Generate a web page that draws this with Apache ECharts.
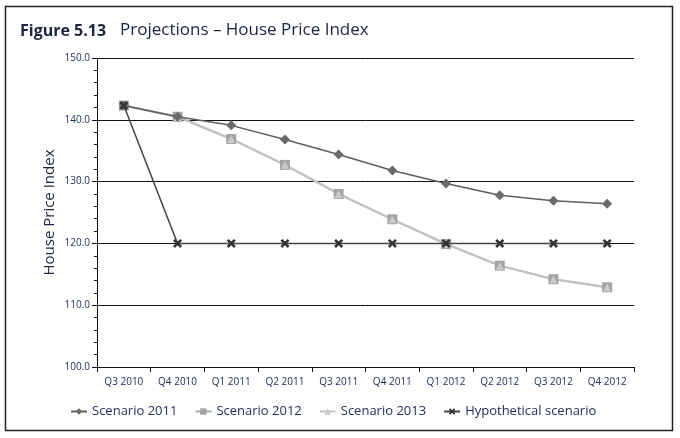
<!DOCTYPE html>
<html>
<head>
<meta charset="utf-8">
<script src="https://cdn.jsdelivr.net/npm/echarts@6/dist/echarts.min.js"></script>
<style>
html,body{margin:0;padding:0;background:#fff;}
#c{width:680px;height:438px;}
</style>
</head>
<body>
<div id="c"></div>
<script>
var categories = ['Q3 2010','Q4 2010','Q1 2011','Q2 2011','Q3 2011','Q4 2011','Q1 2012','Q2 2012','Q3 2012','Q4 2012'];
var scenario2011 = [142.3, 140.5, 139.1, 136.8, 134.4, 131.8, 129.7, 127.8, 126.9, 126.4];
var scenario2012 = [142.3, 140.5, 136.9, 132.7, 128.0, 123.9, 119.9, 116.4, 114.2, 112.9];
var scenario2013 = [142.3, 140.5, 136.9, 132.7, 128.0, 123.9, 119.9, 116.4, 114.2, 112.9];
var hypothetical = [142.3, 120.0, 120.0, 120.0, 120.0, 120.0, 120.0, 120.0, 120.0, 120.0];
var seriesNames = ['Scenario 2011','Scenario 2012','Scenario 2013','Hypothetical scenario'];

var txt = '#22305a';
var font = '"Open Sans", "Noto Sans", sans-serif';
var xSym = 'path://M2,0 L5,3 L8,0 L10,2 L7,5 L10,8 L8,10 L5,7 L2,10 L0,8 L3,5 L0,2 Z';

var chart = echarts.init(document.getElementById('c'));
chart.setOption({
  animation: false,
  textStyle: {fontFamily: font},
  graphic: [
    {type:'rect', shape:{x:5.5,y:6.5,width:667,height:424}, style:{fill:'none', stroke:'#222', lineWidth:1.5}, z:-1},
    {type:'text', left:20, top:23, style:{text:'Figure 5.13', font:'bold 16px ' + font, fill:'#1c2440'}},
    {type:'text', left:120, top:22, style:{text:'Projections – House Price Index', font:'17px ' + font, fill:'#1c2440'}}
  ],
  grid: {left:97, right:46, top:58, bottom:71},
  legend: {
    bottom: 15, left: 65,
    itemWidth: 16, itemHeight: 8, itemGap: 17,
    textStyle: {color: txt, fontSize: 13, fontFamily: font},
    data: seriesNames
  },
  xAxis: {
    type: 'category',
    data: categories,
    boundaryGap: true,
    axisLine: {lineStyle:{color:'#111', width:1}},
    axisTick: {show:true, length:5, lineStyle:{color:'#111'}},
    axisLabel: {color: txt, fontSize: 10, margin: 10},
    splitLine: {show:false}
  },
  yAxis: {
    type: 'value',
    min: 100, max: 150, interval: 10,
    name: 'House Price Index',
    nameLocation: 'middle',
    nameGap: 40,
    nameMoveOverlap: false,
    nameTextStyle: {color: '#1c2440', fontSize: 15, fontFamily: font},
    axisLine: {show:true, lineStyle:{color:'#111', width:1}},
    axisTick: {show:true, length:5, lineStyle:{color:'#111'}},
    minorTick: {show:true, splitNumber:5, length:3, lineStyle:{color:'#111'}},
    axisLabel: {color: txt, fontSize: 10, margin: 7, formatter: function(v){return v.toFixed(1);}},
    splitLine: {show:true, lineStyle:{color:'#111', width:1}}
  },
  series: [
    {name: seriesNames[0], type:'line', data: scenario2011, symbol:'diamond', symbolSize:10,
     itemStyle:{color:'#6a6a6a'}, lineStyle:{color:'#5e5e5e', width:1.5}, z:3},
    {name: seriesNames[1], type:'line', data: scenario2012, symbol:'rect', symbolSize:10,
     itemStyle:{color:'#a3a3a3'}, lineStyle:{color:'#a8a8a8', width:2}, z:2},
    {name: seriesNames[2], type:'line', data: scenario2013, symbol:'triangle', symbolSize:8,
     itemStyle:{color:'#cacaca'}, lineStyle:{color:'#c4c4c4', width:2}, z:2},
    {name: seriesNames[3], type:'line', data: hypothetical, symbol:xSym, symbolSize:9,
     itemStyle:{color:'#333'}, lineStyle:{color:'#444', width:1.5}, z:4}
  ]
});
</script>
</body>
</html>
